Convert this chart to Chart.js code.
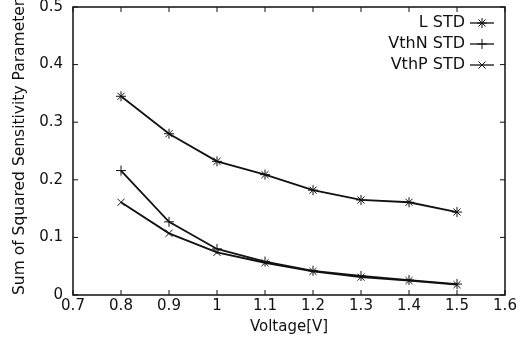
<!DOCTYPE html>
<html>
<head>
<meta charset="utf-8">
<script src="https://cdn.jsdelivr.net/npm/chart.js@4"></script>
<style>
  html, body { margin: 0; padding: 0; background: #fff; }
  #wrap { width: 527px; height: 338px; }
</style>
</head>
<body>
<div id="wrap"><canvas id="chart" width="527" height="338"></canvas></div>
<script>
// values
const voltages = [0.8, 0.9, 1.0, 1.1, 1.2, 1.3, 1.4, 1.5];
const lStd    = [0.345, 0.280, 0.232, 0.209, 0.182, 0.165, 0.161, 0.144];
const vthNStd = [0.216, 0.127, 0.080, 0.058, 0.042, 0.033, 0.026, 0.019];
const vthPStd = [0.161, 0.107, 0.074, 0.056, 0.041, 0.031, 0.025, 0.018];
const seriesNames = ["L STD", "VthN STD", "VthP STD"];
const pointShapes = ["star", "cross", "crossRot"];

const FONT = "'DejaVu Sans', sans-serif";
const INK = "#111";

function toPoints(ys) {
    return voltages.map((v, i) => ({ x: v, y: ys[i] }));
}

const datasets = [lStd, vthNStd, vthPStd].map((ys, i) => ({
    label: seriesNames[i],
    data: toPoints(ys),
    borderColor: INK,
    backgroundColor: INK,
    borderWidth: 1.8,
    pointStyle: pointShapes[i],
    pointRadius: 5,
    pointBorderWidth: 1,
    pointBorderColor: INK,
    tension: 0
}));

// gnuplot-style frame with inward ticks on all four sides
const framePlugin = {
    id: "frame",
    afterDatasetsDraw(chart) {
        const { ctx, chartArea: a, scales } = chart;
        ctx.save();
        ctx.strokeStyle = INK;
        ctx.lineWidth = 1.5;
        ctx.strokeRect(a.left, a.top, a.right - a.left, a.bottom - a.top);
        ctx.lineWidth = 1;
        const len = 5;
        scales.x.ticks.forEach(t => {
            const px = scales.x.getPixelForValue(t.value);
            ctx.beginPath();
            ctx.moveTo(px, a.bottom); ctx.lineTo(px, a.bottom - len);
            ctx.moveTo(px, a.top); ctx.lineTo(px, a.top + len);
            ctx.stroke();
        });
        scales.y.ticks.forEach(t => {
            const py = scales.y.getPixelForValue(t.value);
            ctx.beginPath();
            ctx.moveTo(a.left, py); ctx.lineTo(a.left + len, py);
            ctx.moveTo(a.right, py); ctx.lineTo(a.right - len, py);
            ctx.stroke();
        });
        ctx.restore();
    }
};

// key in the top right corner: text, then a line sample with the marker
const keyPlugin = {
    id: "key",
    afterDraw(chart) {
        const { ctx } = chart;
        const textRight = 465, x0 = 470, x1 = 494, rowY = [23, 44, 65];
        ctx.save();
        ctx.font = "16px " + FONT;
        ctx.fillStyle = INK;
        ctx.textAlign = "right";
        ctx.textBaseline = "middle";
        chart.data.datasets.forEach((ds, i) => {
            const y = rowY[i];
            ctx.fillText(ds.label, textRight, y);
            ctx.strokeStyle = INK;
            ctx.lineWidth = 1.3;
            ctx.beginPath();
            ctx.moveTo(x0, y); ctx.lineTo(x1, y);
            ctx.stroke();
            ctx.lineWidth = 1;
            Chart.helpers.drawPoint(ctx, { pointStyle: ds.pointStyle, radius: 5, borderWidth: 1 }, (x0 + x1) / 2, y);
        });
        ctx.restore();
    }
};

new Chart(document.getElementById("chart"), {
    type: "line",
    data: { datasets: datasets },
    options: {
        responsive: false,
        animation: false,
        devicePixelRatio: 1,
        layout: { padding: { top: 7, right: 22, left: 0, bottom: 0 } },
        plugins: { legend: { display: false }, tooltip: { enabled: false } },
        scales: {
            x: {
                type: "linear",
                min: 0.7,
                max: 1.6,
                grid: { display: false, drawTicks: false },
                border: { display: false },
                ticks: {
                    stepSize: 0.1,
                    padding: 2,
                    maxRotation: 0,
                    color: INK,
                    font: { family: FONT, size: 15 },
                    callback: v => String(+v.toFixed(1))
                },
                title: {
                    display: true,
                    text: "Voltage[V]",
                    color: INK,
                    font: { family: FONT, size: 15 },
                    padding: { top: 0, bottom: 2 }
                },
                afterFit(scale) {
                    scale.height = 43;
                    scale.paddingLeft = 0;
                    scale.paddingRight = 0;
                }
            },
            y: {
                min: 0,
                max: 0.5,
                grid: { display: false, drawTicks: false },
                border: { display: false },
                ticks: {
                    stepSize: 0.1,
                    padding: 10,
                    color: INK,
                    font: { family: FONT, size: 15 },
                    callback: v => String(+v.toFixed(1))
                },
                title: {
                    display: true,
                    text: "Sum of Squared Sensitivity Parameters",
                    align: "start",
                    color: INK,
                    font: { family: FONT, size: 15.5 },
                    padding: { top: 11, bottom: 0 }
                },
                afterFit(scale) {
                    scale.width = 73;
                    scale.paddingTop = 0;
                    scale.paddingBottom = 0;
                }
            }
        }
    },
    plugins: [framePlugin, keyPlugin]
});
</script>
</body>
</html>
